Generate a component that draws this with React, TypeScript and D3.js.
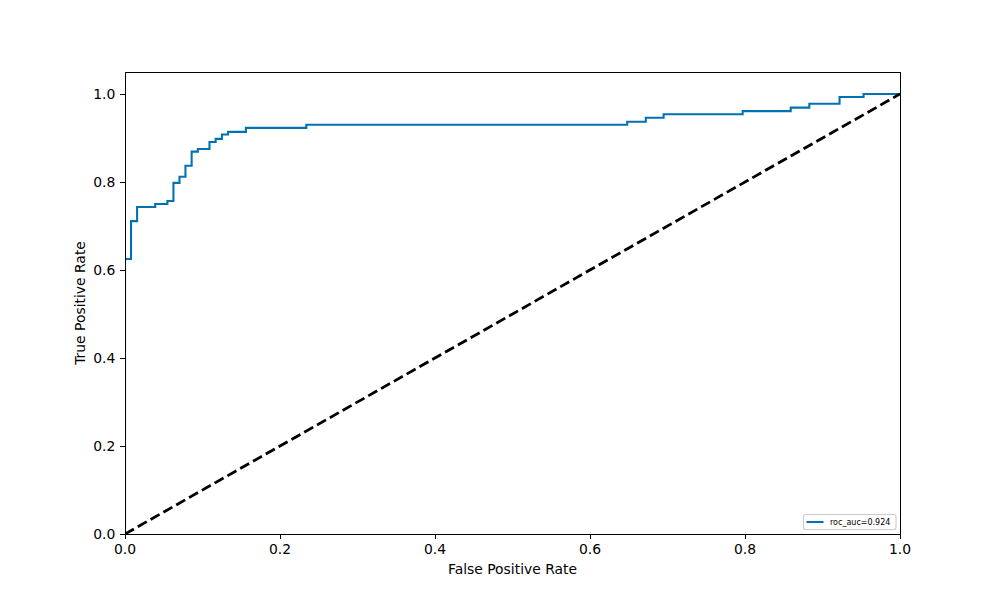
import React from "react";
import * as d3 from "d3";

// ROC curve corner points
const fpr = [0, 0, 0.0078, 0.0078, 0.0156, 0.0156, 0.039, 0.039, 0.0547, 0.0547, 0.0625, 0.0625, 0.0703, 0.0703, 0.078, 0.078, 0.086, 0.086, 0.094, 0.094, 0.109, 0.109, 0.117, 0.117, 0.125, 0.125, 0.133, 0.133, 0.156, 0.156, 0.234, 0.234, 0.648, 0.648, 0.672, 0.672, 0.695, 0.695, 0.797, 0.797, 0.859, 0.859, 0.883, 0.883, 0.922, 0.922, 0.953, 0.953, 1.0];
const tpr = [0, 0.625, 0.625, 0.711, 0.711, 0.743, 0.743, 0.750, 0.750, 0.757, 0.757, 0.798, 0.798, 0.812, 0.812, 0.837, 0.837, 0.869, 0.869, 0.875, 0.875, 0.891, 0.891, 0.898, 0.898, 0.908, 0.908, 0.914, 0.914, 0.923, 0.923, 0.930, 0.930, 0.937, 0.937, 0.946, 0.946, 0.954, 0.954, 0.961, 0.961, 0.969, 0.969, 0.978, 0.978, 0.993, 0.993, 1.0, 1.0];
const diagX = [0, 1];
const diagY = [0, 1];
const xTicks = [0, 0.2, 0.4, 0.6, 0.8, 1.0];
const yTicks = [0, 0.2, 0.4, 0.6, 0.8, 1.0];
const legendLabel = "roc_auc=0.924";
const xLabel = "False Positive Rate";
const yLabel = "True Positive Rate";

const W = 1000, H = 600;
const L = 125, R = 900, T = 72, B = 534;
const FONT = "DejaVu Sans, sans-serif";
const PT = 100 / 72;

export default function App() {
  const x = d3.scaleLinear().domain([0, 1]).range([L, R]);
  const y = d3.scaleLinear().domain([0, 1.05]).range([B, T]);
  const line = d3.line<number>().x((_, i) => x(fpr[i])).y((_, i) => y(tpr[i]));
  const diag = d3.line<number>().x((_, i) => x(diagX[i])).y((_, i) => y(diagY[i]));
  const blue = "#0072b2";
  return (
    <svg width={W} height={H} style={{ position: "absolute", left: 0, top: 0, background: "#fff" }} fontFamily={FONT}>
      <rect x={0} y={0} width={W} height={H} fill="#fff" />
      <defs>
        <clipPath id="plotclip">
          <rect x={L} y={T} width={R - L} height={B - T} />
        </clipPath>
      </defs>
      <g clipPath="url(#plotclip)">
        <path d={line(fpr) || ""} fill="none" stroke={blue} strokeWidth={1.5 * PT} strokeLinejoin="miter" strokeLinecap="square" />
        <path d={diag(diagX) || ""} fill="none" stroke="#000" strokeWidth={2 * PT} strokeDasharray={`${7.4 * PT},${3.2 * PT}`} />
      </g>
      <g shapeRendering="crispEdges">
        <rect x={L} y={T} width={R - L} height={B - T} fill="none" stroke="#000" strokeWidth={1} />
        {xTicks.map((t) => (
          <line key={"xt" + t} x1={x(t)} x2={x(t)} y1={B} y2={B + 3.5 * PT} stroke="#000" strokeWidth={1} />
        ))}
        {yTicks.map((t) => (
          <line key={"yt" + t} x1={L - 3.5 * PT} x2={L} y1={y(t)} y2={y(t)} stroke="#000" strokeWidth={1} />
        ))}
      </g>
      {xTicks.map((t) => (
        <text key={"x" + t} x={x(t)} y={B + 19.5} textAnchor="middle" fontSize={13.9} fill="#000">{t.toFixed(1)}</text>
      ))}
      {yTicks.map((t) => (
        <text key={"y" + t} x={L - 9.7} y={y(t) + 5} textAnchor="end" fontSize={13.9} fill="#000">{t.toFixed(1)}</text>
      ))}
      <text x={(L + R) / 2} y={574} textAnchor="middle" fontSize={13.9} fill="#000">{xLabel}</text>
      <text transform={`translate(85,${(T + B) / 2}) rotate(-90)`} textAnchor="middle" fontSize={13.9} fill="#000">{yLabel}</text>
      <g>
        <rect x={803.5} y={514.5} width={92.5} height={15} rx={2} fill="#fff" fillOpacity={0.8} stroke="#cccccc" strokeWidth={0.8 * PT} />
        <line x1={806.5} x2={823.5} y1={522} y2={522} stroke={blue} strokeWidth={1.5 * PT} />
        <text x={830} y={524.8} fontSize={8} fill="#000">{legendLabel}</text>
      </g>
    </svg>
  );
}
